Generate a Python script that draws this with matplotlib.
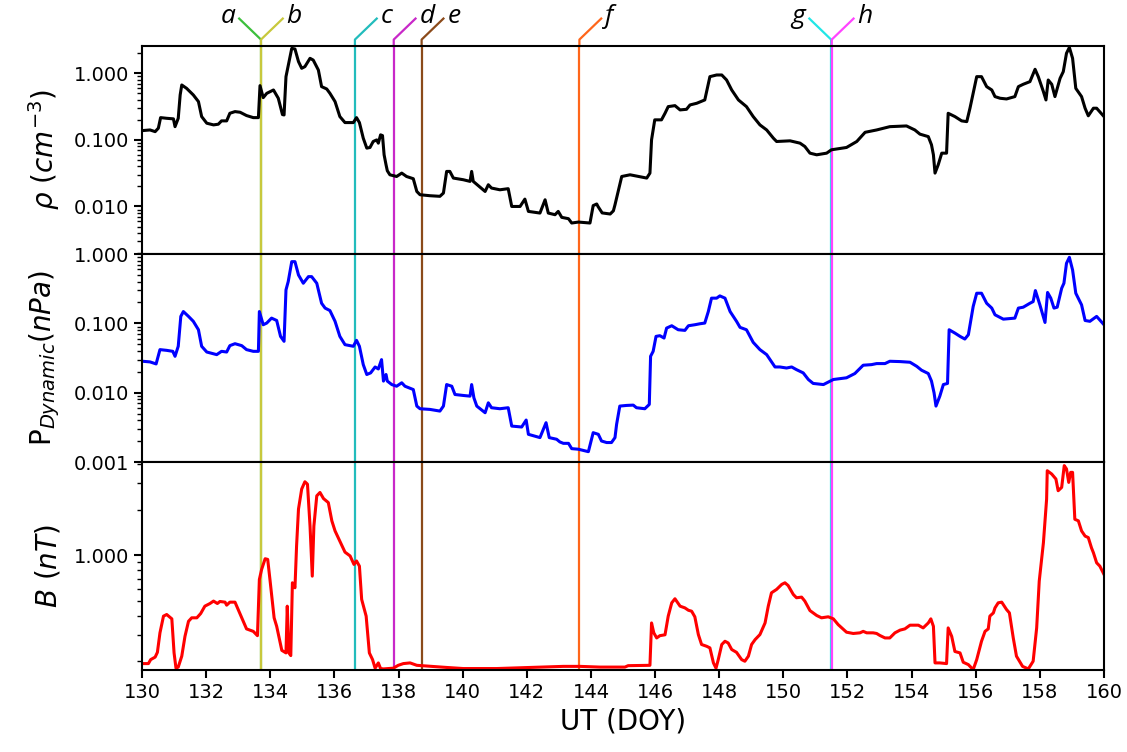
import numpy as np
import matplotlib
matplotlib.use('Agg')
import matplotlib.pyplot as plt
from matplotlib import ticker, transforms

# density (black)
rho_doy = [130.02, 130.25, 130.41, 130.51, 130.58, 130.77, 130.98, 131.03, 131.13, 131.19,
           131.24, 131.39, 131.60, 131.76, 131.86, 132.02, 132.23, 132.38, 132.48, 132.64,
           132.74, 132.90, 133.06, 133.26, 133.47, 133.63, 133.68, 133.78, 133.89, 134.10,
           134.25, 134.38, 134.43, 134.49, 134.67, 134.77, 134.88, 134.98, 135.08, 135.24,
           135.34, 135.50, 135.60, 135.76, 135.86, 136.02, 136.17, 136.33, 136.59, 136.69,
           136.78, 136.90, 137.01, 137.11, 137.21, 137.32, 137.37, 137.44, 137.50, 137.55,
           137.61, 137.65, 137.73, 137.94, 138.10, 138.25, 138.46, 138.57, 138.67, 138.98,
           139.29, 139.40, 139.50, 139.60, 139.71, 140.02, 140.23, 140.28, 140.33, 140.70,
           140.80, 140.90, 141.16, 141.42, 141.53, 141.79, 141.94, 142.05, 142.41, 142.57,
           142.67, 142.88, 142.98, 143.09, 143.30, 143.40, 143.61, 143.97, 144.07, 144.18,
           144.22, 144.35, 144.60, 144.70, 144.75, 144.85, 144.96, 145.22, 145.48, 145.74,
           145.84, 145.89, 145.99, 146.20, 146.31, 146.41, 146.62, 146.78, 146.98, 147.09,
           147.30, 147.55, 147.71, 147.92, 148.08, 148.23, 148.39, 148.60, 148.85, 149.06,
           149.27, 149.48, 149.69, 149.79, 150.21, 150.52, 150.67, 150.83, 151.04, 151.35,
           151.50, 151.97, 152.29, 152.55, 152.91, 153.32, 153.84, 154.10, 154.26, 154.52,
           154.62, 154.68, 154.73, 154.83, 154.94, 155.09, 155.14, 155.35, 155.56, 155.72,
           155.82, 156.03, 156.18, 156.34, 156.50, 156.60, 156.76, 156.96, 157.22, 157.33,
           157.48, 157.69, 157.85, 157.95, 158.11, 158.19, 158.26, 158.37, 158.47, 158.63,
           158.73, 158.83, 158.92, 159.02, 159.12, 159.30, 159.41, 159.51, 159.67, 159.77,
           160.0]
rho_val = [0.138, 0.141, 0.133, 0.150, 0.216, 0.211, 0.207, 0.158, 0.211, 0.473,
           0.668, 0.595, 0.473, 0.376, 0.224, 0.178, 0.168, 0.172, 0.193, 0.193,
           0.251, 0.266, 0.260, 0.232, 0.216, 0.216, 0.653, 0.431, 0.50, 0.562,
           0.422, 0.24, 0.237, 0.891, 2.37, 2.32, 1.50, 1.19, 1.26, 1.68,
           1.58, 1.12, 0.631, 0.582, 0.501, 0.376, 0.224, 0.182, 0.182, 0.216,
           0.182, 0.106, 0.0752, 0.0769, 0.0946, 0.100, 0.0893, 0.119, 0.116, 0.0597,
           0.0423, 0.0344, 0.0299, 0.0282, 0.0317, 0.0282, 0.0261, 0.0168, 0.0150, 0.0145,
           0.0142, 0.0159, 0.0336, 0.0336, 0.0267, 0.0252, 0.0238, 0.0336, 0.0238, 0.0168,
           0.0212, 0.0189, 0.0178, 0.0185, 0.0100, 0.0100, 0.0129, 0.00843, 0.00796, 0.0126,
           0.00796, 0.00752, 0.00843, 0.00686, 0.00655, 0.00564, 0.00583, 0.00564, 0.0103, 0.0109,
           0.0100, 0.0080, 0.0077, 0.0086, 0.0106, 0.0168, 0.0282, 0.0299, 0.0282, 0.0267,
           0.0317, 0.100, 0.200, 0.200, 0.251, 0.316, 0.327, 0.282, 0.288, 0.335,
           0.355, 0.398, 0.891, 0.944, 0.944, 0.794, 0.562, 0.398, 0.316, 0.224,
           0.168, 0.141, 0.106, 0.0946, 0.0968, 0.0893, 0.0796, 0.0632, 0.0597, 0.0632,
           0.0710, 0.0769, 0.0946, 0.130, 0.141, 0.158, 0.162, 0.141, 0.122, 0.112,
           0.0843, 0.0597, 0.0317, 0.0423, 0.0632, 0.0632, 0.251, 0.224, 0.193, 0.188,
           0.299, 0.891, 0.891, 0.631, 0.562, 0.447, 0.422, 0.412, 0.447, 0.631,
           0.684, 0.750, 1.15, 0.891, 0.531, 0.398, 0.794, 0.684, 0.447, 0.841,
           1.06, 2.00, 2.45, 1.68, 0.595, 0.447, 0.299, 0.230, 0.299, 0.299,
           0.224]

# dynamic pressure (blue)
pdyn_doy = [130.02, 130.25, 130.44, 130.56, 130.77, 130.96, 131.03, 131.13, 131.21, 131.29,
            131.45, 131.60, 131.76, 131.86, 132.02, 132.33, 132.48, 132.64, 132.74, 132.90,
            133.11, 133.26, 133.47, 133.63, 133.66, 133.78, 133.89, 134.04, 134.20, 134.32,
            134.43, 134.49, 134.56, 134.67, 134.77, 134.88, 135.03, 135.19, 135.29, 135.45,
            135.60, 135.71, 135.86, 136.02, 136.17, 136.33, 136.59, 136.69, 136.78, 136.90,
            137.01, 137.13, 137.27, 137.37, 137.47, 137.53, 137.61, 137.65, 137.79, 137.94,
            138.10, 138.20, 138.46, 138.57, 138.67, 138.98, 139.29, 139.40, 139.50, 139.66,
            139.76, 140.02, 140.23, 140.28, 140.35, 140.44, 140.70, 140.80, 140.90, 141.16,
            141.42, 141.53, 141.84, 141.98, 142.05, 142.41, 142.60, 142.70, 142.93, 143.03,
            143.14, 143.30, 143.40, 143.61, 143.92, 144.07, 144.23, 144.33, 144.49, 144.64,
            144.75, 144.80, 144.90, 145.11, 145.32, 145.42, 145.68, 145.82, 145.86, 145.94,
            146.03, 146.15, 146.28, 146.36, 146.52, 146.72, 146.93, 147.04, 147.24, 147.40,
            147.55, 147.66, 147.76, 147.92, 148.02, 148.18, 148.34, 148.54, 148.65, 148.85,
            149.06, 149.27, 149.48, 149.74, 149.89, 150.10, 150.26, 150.41, 150.62, 150.78,
            150.93, 151.25, 151.40, 151.56, 151.97, 152.23, 152.49, 152.75, 152.91, 153.17,
            153.32, 153.64, 153.95, 154.16, 154.31, 154.52, 154.62, 154.70, 154.76, 154.88,
            154.99, 155.12, 155.17, 155.35, 155.51, 155.66, 155.77, 155.92, 156.03, 156.18,
            156.34, 156.50, 156.60, 156.86, 157.22, 157.33, 157.48, 157.69, 157.79, 157.86,
            158.00, 158.16, 158.24, 158.34, 158.44, 158.54, 158.68, 158.75, 158.83, 158.92,
            159.02, 159.12, 159.30, 159.41, 159.56, 159.77, 160.0]
pdyn_val = [0.0284, 0.0278, 0.0260, 0.0418, 0.0408, 0.0395, 0.0335, 0.0467, 0.126, 0.148,
            0.126, 0.107, 0.0809, 0.0467, 0.0386, 0.0354, 0.0395, 0.0386, 0.0477, 0.0509,
            0.0477, 0.0418, 0.0395, 0.0395, 0.148, 0.0955, 0.101, 0.119, 0.110, 0.0649,
            0.0551, 0.304, 0.401, 0.776, 0.776, 0.499, 0.379, 0.472, 0.472, 0.379,
            0.195, 0.166, 0.153, 0.107, 0.0649, 0.0493, 0.0467, 0.0569, 0.0467, 0.0254,
            0.0183, 0.0193, 0.0235, 0.0220, 0.0300, 0.0147, 0.0183, 0.0147, 0.0131, 0.0124,
            0.0139, 0.0124, 0.0111, 0.00641, 0.00587, 0.00574, 0.00543, 0.00641, 0.0131, 0.0124,
            0.00942, 0.00912, 0.00892, 0.0131, 0.00844, 0.00641, 0.00514, 0.00715, 0.00607, 0.00587,
            0.00607, 0.00330, 0.00320, 0.00403, 0.00251, 0.00225, 0.00369, 0.00225, 0.00213, 0.00195,
            0.00186, 0.00186, 0.00156, 0.00153, 0.00141, 0.00265, 0.00251, 0.00201, 0.00191, 0.00191,
            0.00225, 0.00349, 0.00641, 0.00655, 0.00662, 0.00607, 0.00587, 0.00677, 0.0335, 0.0395,
            0.0649, 0.0664, 0.0614, 0.0855, 0.0924, 0.0809, 0.0792, 0.0924, 0.0955, 0.0987,
            0.101, 0.148, 0.231, 0.231, 0.249, 0.231, 0.148, 0.107, 0.0875, 0.0809,
            0.0532, 0.0418, 0.0354, 0.0235, 0.0235, 0.0227, 0.0235, 0.0215, 0.0193, 0.0155,
            0.0136, 0.0131, 0.0142, 0.0155, 0.0164, 0.0189, 0.0249, 0.0254, 0.0263, 0.0263,
            0.0284, 0.0281, 0.0275, 0.0240, 0.0211, 0.0189, 0.0147, 0.00996, 0.00641, 0.00892,
            0.0131, 0.0136, 0.0809, 0.0724, 0.0649, 0.0594, 0.0686, 0.175, 0.272, 0.272,
            0.195, 0.166, 0.133, 0.115, 0.119, 0.166, 0.171, 0.195, 0.206, 0.297,
            0.185, 0.103, 0.279, 0.231, 0.166, 0.171, 0.321, 0.379, 0.735, 0.896,
            0.589, 0.272, 0.185, 0.110, 0.107, 0.126, 0.0955]

# magnetic field (red)
b_doy = [130.02, 130.20, 130.27, 130.41, 130.48, 130.56, 130.67, 130.77, 130.93, 131.00,
         131.06, 131.13, 131.24, 131.34, 131.45, 131.55, 131.71, 131.83, 131.96, 132.12,
         132.23, 132.35, 132.43, 132.59, 132.64, 132.74, 132.90, 133.00, 133.16, 133.26,
         133.47, 133.60, 133.66, 133.73, 133.84, 133.92, 133.99, 134.12, 134.20, 134.36,
         134.49, 134.53, 134.58, 134.64, 134.69, 134.77, 134.82, 134.88, 134.98, 135.08,
         135.16, 135.24, 135.31, 135.36, 135.45, 135.55, 135.66, 135.81, 135.92, 136.02,
         136.17, 136.33, 136.49, 136.61, 136.69, 136.78, 136.85, 136.99, 137.09, 137.19,
         137.27, 137.37, 137.44, 137.53, 137.84, 137.99, 138.15, 138.36, 138.57, 138.72,
         139.50, 140.02, 141.06, 142.10, 143.14, 143.66, 144.28, 145.06, 145.16, 145.84,
         145.89, 145.96, 146.05, 146.15, 146.31, 146.41, 146.52, 146.62, 146.78, 146.93,
         147.04, 147.14, 147.24, 147.35, 147.45, 147.61, 147.71, 147.82, 147.90, 147.97,
         148.08, 148.18, 148.28, 148.39, 148.54, 148.70, 148.80, 148.91, 149.01, 149.12,
         149.27, 149.43, 149.53, 149.63, 149.79, 149.95, 150.05, 150.15, 150.31, 150.41,
         150.57, 150.67, 150.83, 151.04, 151.19, 151.40, 151.56, 151.71, 151.97, 152.18,
         152.39, 152.49, 152.60, 152.80, 152.91, 153.01, 153.17, 153.32, 153.48, 153.64,
         153.79, 153.95, 154.21, 154.36, 154.52, 154.60, 154.68, 154.73, 154.88, 155.09,
         155.14, 155.25, 155.35, 155.51, 155.61, 155.77, 155.92, 156.03, 156.18, 156.29,
         156.39, 156.44, 156.55, 156.60, 156.70, 156.81, 156.96, 157.05, 157.17, 157.27,
         157.46, 157.64, 157.79, 157.90, 157.98, 158.11, 158.21, 158.23, 158.37, 158.50,
         158.57, 158.68, 158.76, 158.83, 158.90, 158.96, 159.02, 159.09, 159.20, 159.30,
         159.41, 159.51, 159.61, 159.67, 159.77, 159.87, 160.0]
b_val = [0.193, 0.193, 0.205, 0.213, 0.229, 0.308, 0.397, 0.407, 0.381, 0.227,
         0.180, 0.183, 0.216, 0.292, 0.367, 0.387, 0.387, 0.413, 0.462, 0.481,
         0.499, 0.481, 0.496, 0.491, 0.469, 0.491, 0.491, 0.439, 0.367, 0.327,
         0.315, 0.295, 0.693, 0.807, 0.950, 0.940, 0.693, 0.387, 0.340, 0.236,
         0.227, 0.462, 0.227, 0.218, 0.659, 0.611, 1.15, 2.02, 2.74, 3.06,
         2.95, 1.56, 0.729, 1.56, 2.47, 2.60, 2.37, 2.23, 1.69, 1.45,
         1.24, 1.05, 0.991, 0.871, 0.918, 0.849, 0.512, 0.397, 0.227, 0.205,
         0.180, 0.195, 0.179, 0.178, 0.180, 0.188, 0.193, 0.195, 0.188, 0.187,
         0.182, 0.179, 0.179, 0.182, 0.185, 0.185, 0.183, 0.183, 0.187, 0.188,
         0.358, 0.308, 0.285, 0.295, 0.299, 0.397, 0.486, 0.517, 0.462, 0.450,
         0.434, 0.428, 0.393, 0.300, 0.258, 0.251, 0.245, 0.195, 0.180, 0.205,
         0.258, 0.271, 0.264, 0.239, 0.229, 0.205, 0.200, 0.216, 0.258, 0.278,
         0.300, 0.358, 0.462, 0.566, 0.596, 0.643, 0.659, 0.632, 0.552, 0.525,
         0.530, 0.499, 0.432, 0.401, 0.387, 0.393, 0.381, 0.349, 0.311, 0.305,
         0.308, 0.315, 0.308, 0.308, 0.305, 0.296, 0.285, 0.285, 0.308, 0.321,
         0.327, 0.346, 0.346, 0.332, 0.358, 0.381, 0.340, 0.195, 0.195, 0.193,
         0.332, 0.292, 0.232, 0.227, 0.197, 0.190, 0.176, 0.205, 0.271, 0.315,
         0.327, 0.397, 0.417, 0.450, 0.486, 0.491, 0.439, 0.417, 0.285, 0.216,
         0.185, 0.178, 0.200, 0.332, 0.676, 1.21, 2.35, 3.62, 3.44, 3.19,
         2.67, 2.81, 3.91, 3.72, 3.03, 3.53, 3.53, 1.73, 1.69, 1.45,
         1.34, 1.31, 1.12, 1.04, 0.893, 0.849, 0.748]

# event markers
ev_doy = [133.71, 133.71, 136.64, 137.85, 138.72, 143.64, 151.49, 151.51]
ev_lab = ['a', 'b', 'c', 'd', 'e', 'f', 'g', 'h']
ev_col = ['#3cbf3c', '#c8c83c', '#22bcbc', '#c828c8', '#8b4a1a', '#ff661a', '#22e6e6', '#ff44ff']
ev_side = [-1, 1, 1, 1, 1, 1, -1, 1]

fig, axes = plt.subplots(3, 1, sharex=True, figsize=(11.27, 7.52), dpi=100)
plt.subplots_adjust(left=0.126, right=0.9796, top=0.9388, bottom=0.109, hspace=0)
ax1, ax2, ax3 = axes

ax1.plot(rho_doy, rho_val, color='black', lw=2.2, solid_joinstyle='round')
ax2.plot(pdyn_doy, pdyn_val, color='blue', lw=2.2, solid_joinstyle='round')
ax3.plot(b_doy, b_val, color='red', lw=2.2, solid_joinstyle='round')

ylims = [(0.00193, 2.57), (0.001, 1.0), (0.175, 4.13)]
for ax, yl in zip(axes, ylims):
    ax.set_yscale('log')
    ax.set_ylim(yl)
    ax.yaxis.set_major_formatter(ticker.FormatStrFormatter('%.3f'))
    ax.yaxis.set_minor_formatter(ticker.NullFormatter())
    ax.tick_params(which='major', labelsize=14, length=6, width=1.5)
    ax.tick_params(which='minor', length=3.5, width=1)
    for s in ax.spines.values():
        s.set_linewidth(1.5)
    # event lines sit under the data
    for x, c in zip(ev_doy, ev_col):
        ax.axvline(x, color=c, lw=1.6, zorder=1)

ax1.tick_params(axis='x', which='both', bottom=False)
ax2.tick_params(axis='x', which='both', bottom=False)

ax3.set_xlim(130, 160)
ax3.set_xticks(np.arange(130, 161, 2))
ax3.set_xlabel('UT (DOY)', fontsize=20)

ax1.set_ylabel(r'$\rho\ (cm^{-3})$', fontsize=20, labelpad=8)
ax2.set_ylabel(r'P$_{Dynamic}(nPa)$', fontsize=20, labelpad=8)
ax3.set_ylabel(r'$B\ (nT)$', fontsize=20, labelpad=8)

# labels above the top panel
trans = transforms.blended_transform_factory(ax1.transData, ax1.transAxes)
for x, lab, c, side in zip(ev_doy, ev_lab, ev_col, ev_side):
    x_end = x + side * 0.68
    ax1.plot([x, x, x_end], [1.0, 1.031, 1.132], color=c, lw=1.6,
             transform=trans, clip_on=False)
    ax1.text(x_end + side * 0.12, 1.14, lab, transform=trans,
             ha='right' if side < 0 else 'left', va='center',
             fontsize=19, style='italic', family='Open Sans')

plt.savefig('out.png')
